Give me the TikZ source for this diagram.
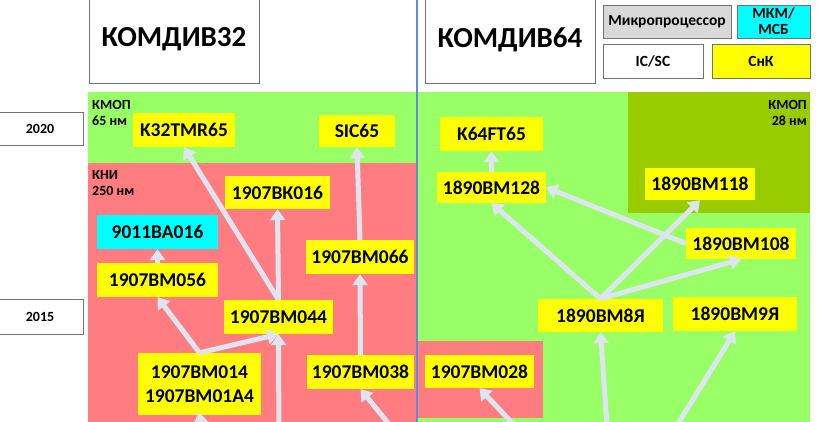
\documentclass[tikz,border=0pt]{standalone}
\usepackage{fontspec}
\setmainfont{Carlito}
\usetikzlibrary{arrows.meta}
\definecolor{kmop}{RGB}{153,255,102}
\definecolor{kmopdark}{RGB}{153,204,0}
\definecolor{kni}{RGB}{255,124,128}
\definecolor{snk}{RGB}{255,255,0}
\definecolor{mkm}{RGB}{0,255,255}
\definecolor{mproc}{RGB}{217,217,217}
\definecolor{arrc}{RGB}{221,229,241}
\definecolor{axis}{RGB}{91,141,217}
\tikzset{
  chip/.style={fill=snk, inner sep=0pt, align=center, font=\fontsize{19.5}{24}\selectfont\bfseries},
  legend/.style={draw=black!55, inner sep=0pt, align=center, font=\fontsize{15.5}{16}\selectfont\bfseries},
  year/.style={draw=black!55, fill=white, inner sep=0pt, minimum width=86pt, font=\fontsize{14}{16}\selectfont\bfseries},
  tech/.style={inner sep=0pt, font=\fontsize{14}{16.5}\selectfont\bfseries},
  title/.style={draw=black!55, fill=white, inner sep=0pt, minimum width=170pt, minimum height=87pt, font=\fontsize{29}{34}\selectfont\bfseries},
  arr/.style={draw=arrc, line width=5pt, -{Triangle[width=15pt,length=11pt]}},
}

\begin{document}
\begin{tikzpicture}[x=1pt,y=-1pt]
		%%%%% START %%%%%
		\useasboundingbox (0,0) rectangle (817,421);
		\clip (0,0) rectangle (817,421);
		\fill[white] (0,0) rectangle (817,421);
		
		% technology areas
		\fill[kmop] (88,92) rectangle (416,163);
		\fill[kni] (88,163) rectangle (416,425);
		\fill[kmop] (416,92) rectangle (810,425);
		\fill[kmopdark] (628,92) rectangle (810,213);
		\fill[kni] (416,341) rectangle (543,418);
		\draw[axis, line width=2pt] (416.5,-5) -- (416.5,425);
		
		\node[tech, align=left, anchor=north west] (t65) at (92,100) {КМОП\\65 нм};
		\node[tech, align=left, anchor=north west] (t250) at (92,170) {КНИ\\250 нм};
		\node[tech, align=right, anchor=north east] (t28) at (807,100) {КМОП\\28 нм};
		
		% titles and legend
		\node[title] (komdiv32) at (174,39.5) {КОМДИВ32};
		\node[title] (komdiv64) at (510,39.5) {КОМДИВ64};
		\node[legend, fill=mproc, minimum width=128pt, minimum height=33pt] (lmp) at (667,21.5) {Микропроцессор};
		\node[legend, fill=mkm, minimum width=73pt, minimum height=33pt] (lmkm) at (773.5,21.5) {МКМ/\\МСБ};
		\node[legend, fill=white, minimum width=100pt, minimum height=34pt] (lic) at (653,61) {IC/SC};
		\node[legend, fill=snk, minimum width=98pt, minimum height=34pt] (lsnk) at (761,61) {СнК};
		
		\node[year, minimum height=33pt] (y2020) at (40,128.5) {2020};
		\node[year, minimum height=35pt] (y2015) at (40,316.5) {2015};
		
		% KOMDIV32 chips
		\node[chip, minimum width=102pt, minimum height=34pt] (k32) at (184,130) {K32TMR65};
		\node[chip, minimum width=76pt, minimum height=32pt] (sic) at (357,131) {SIC65};
		\node[chip, minimum width=105pt, minimum height=33pt] (bk016) at (277.5,192.5) {1907ВК016};
		\node[chip, fill=mkm, minimum width=121pt, minimum height=34pt] (ba016) at (157.5,232) {9011ВА016};
		\node[chip, minimum width=121pt, minimum height=34pt] (bm056) at (157.5,280) {1907ВМ056};
		\node[chip, minimum width=109pt, minimum height=34pt] (bm044) at (278.5,317) {1907ВМ044};
		\node[chip, minimum width=108pt, minimum height=34pt] (bm066) at (360,257) {1907ВМ066};
		\node[chip, minimum width=123pt, minimum height=62pt] (bm014) at (199.5,384) {1907ВМ014\\1907ВМ01А4};
		\node[chip, minimum width=107pt, minimum height=34pt] (bm038) at (360.5,372) {1907ВМ038};
		
		% KOMDIV64 chips
		\node[chip, minimum width=103pt, minimum height=34pt] (k64) at (491.5,134) {K64FT65};
		\node[chip, minimum width=109pt, minimum height=31pt] (bm128) at (491.5,187.5) {1890ВМ128};
		\node[chip, minimum width=110pt, minimum height=32pt] (bm118) at (700,184) {1890ВМ118};
		\node[chip, minimum width=110pt, minimum height=31pt] (bm108) at (741,243.5) {1890ВМ108};
		\node[chip, minimum width=125pt, minimum height=33pt] (bm8) at (600.5,315.5) {1890ВМ8Я};
		\node[chip, minimum width=124pt, minimum height=34pt] (bm9) at (735,314) {1890ВМ9Я};
		\node[chip, minimum width=109pt, minimum height=33pt] (bm028) at (479.5,371.5) {1907ВМ028};
		
		% free ends below the picture
		\coordinate (in014) at (205,450);
		\coordinate (in044) at (279,450);
		\coordinate (in038) at (402,440);
		\coordinate (in028) at (528,440);
		\coordinate (in8) at (608,440);
		\coordinate (in9) at (668,440);
		
		% KOMDIV32 lines
		\draw[arr] (bm044.north) -- (k32.south);
		\draw[arr] (bm044.north) -- (bk016.south);
		\draw[arr] (bm014.north) -- (bm056.south);
		\draw[arr] (bm014.north) -- (bm044.south);
		\draw[arr] (bm056.north) -- (ba016.south);
		\draw[arr] (bm038.north) -- (bm066.south);
		\draw[arr] (bm066.north) -- (sic.south);
		\draw[arr, shorten >=-3pt] (in014) -- (bm014.south);
		\draw[arr] (in044) -- (bm044.south);
		\draw[arr] (in038) -- (bm038.south);
		
		% KOMDIV64 lines
		\draw[arr] (bm128.north) -- (k64.south);
		\draw[arr] (bm8.north) -- (bm128.south);
		\draw[arr] (bm108.west) -- (bm128.east);
		\draw[arr] (bm8.north) -- (bm118.south);
		\draw[arr] (bm8.north) -- (bm108.south);
		\draw[arr] (in8) -- (bm8.south);
		\draw[arr] (in9) -- (bm9.south);
		\draw[arr] (in028) -- (bm028.south);
		%%%%% END %%%%%
	\end{tikzpicture}
\end{document}
